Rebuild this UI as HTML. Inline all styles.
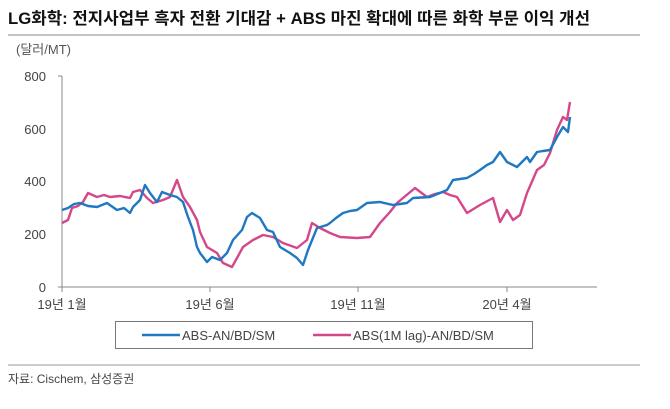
<!DOCTYPE html>
<html><head><meta charset="utf-8"><style>
body{margin:0;background:#fff;}
svg text{font-family:"Liberation Sans","Noto Sans CJK KR",sans-serif;}
</style></head><body>
<svg width="670" height="404" viewBox="0 0 670 404" xmlns="http://www.w3.org/2000/svg">
<rect width="670" height="404" fill="#fff"/>
<text x="8" y="24" font-size="16.5" font-weight="bold" fill="#111" textLength="582" lengthAdjust="spacingAndGlyphs">LG화학: 전지사업부 흑자 전환 기대감 + ABS 마진 확대에 따른 화학 부문 이익 개선</text>
<line x1="8" y1="35" x2="640" y2="35" stroke="#888" stroke-width="1"/>
<text x="16" y="54" font-size="13" fill="#555">(달러/MT)</text>
<g font-size="13" fill="#444" text-anchor="end">
<text x="46" y="81">800</text><text x="46" y="134">600</text><text x="46" y="186">400</text><text x="46" y="239">200</text><text x="46" y="292">0</text>
</g>
<line x1="62" y1="76" x2="62" y2="287" stroke="#888"/>
<line x1="58" y1="76" x2="62" y2="76" stroke="#888"/>
<line x1="58" y1="287" x2="597" y2="287" stroke="#888"/>
<g stroke="#888"><line x1="62" y1="287" x2="62" y2="292"/><line x1="210" y1="287" x2="210" y2="292"/><line x1="358" y1="287" x2="358" y2="292"/><line x1="507" y1="287" x2="507" y2="292"/></g>
<g font-size="13" fill="#444" text-anchor="middle">
<text x="62" y="309">19년 1월</text><text x="210" y="309">19년 6월</text><text x="358" y="309">19년 11월</text><text x="507" y="309">20년 4월</text>
</g>
<polyline fill="none" stroke="#d4488a" stroke-width="2.4" stroke-linejoin="round" points="62,223 68,220 72,208 78,206 83,202 88,193 97,197 104,195 110,197 120,196 130,198 133,192 140,190 147,198 153,203 163,200 170,197 177,180 183,197 190,207 197,220 200,232 207,247 217,253 223,263 232,267 237,258 243,247 253,240 263,235 273,237 283,243 297,248 307,240 312,223 320,228 330,233 340,237 357,238 370,237 380,223 390,212 397,203 403,198 415,188 427,197 435,194 443,192 450,195 457,197 467,213 480,205 493,198 500,222 507,210 513,220 520,215 527,193 537,170 544,165 550,153 557,130 563,117 567,120 570,102"/>
<polyline fill="none" stroke="#1f78c1" stroke-width="2.4" stroke-linejoin="round" points="62,210 68,208 74,204 80,203 88,206 97,207 107,203 117,210 124,208 130,213 133,207 140,200 145,185 150,193 157,202 162,192 170,195 177,197 183,202 188,217 193,230 197,247 200,253 207,262 212,257 220,260 227,253 233,240 242,230 247,217 252,213 260,218 267,230 273,232 280,247 290,253 297,258 303,265 308,250 317,228 327,225 330,223 336,218 343,213 350,211 357,210 367,203 380,202 393,205 400,204 407,203 413,198 430,197 440,193 447,190 453,180 467,178 474,174 480,170 487,165 493,162 500,152 507,162 517,167 527,157 530,162 537,152 543,151 550,150 557,137 563,127 568,132 570,117"/>
<rect x="115.5" y="321.5" width="417" height="27" fill="none" stroke="#777"/>
<line x1="142" y1="335" x2="180" y2="335" stroke="#1f78c1" stroke-width="2.5"/>
<text x="182" y="340" font-size="13" fill="#444">ABS-AN/BD/SM</text>
<line x1="313" y1="335" x2="351" y2="335" stroke="#d4488a" stroke-width="2.5"/>
<text x="353" y="340" font-size="13" fill="#444">ABS(1M lag)-AN/BD/SM</text>
<line x1="8" y1="365" x2="640" y2="365" stroke="#999"/>
<text x="8" y="383" font-size="12" fill="#444">자료: Cischem, 삼성증권</text>
</svg>
</body></html>
